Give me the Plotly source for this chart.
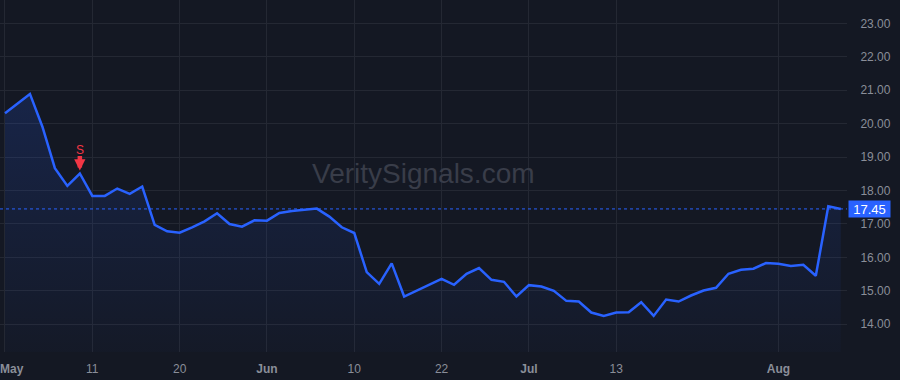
import plotly.graph_objects as go

# ---- data ----
values = [20.31, 20.60, 20.89, 19.91, 18.67, 18.14, 18.51, 17.84, 17.84, 18.06,
          17.90, 18.12, 16.97, 16.78, 16.74, 16.90, 17.08, 17.32, 17.00, 16.92,
          17.11, 17.10, 17.33, 17.39, 17.42, 17.46, 17.22, 16.90, 16.73, 15.56,
          15.21, 15.82, 14.83, 15.00, 15.17, 15.36, 15.18, 15.51, 15.68, 15.33,
          15.27, 14.83, 15.17, 15.13, 15.00, 14.70, 14.68, 14.35, 14.25, 14.35,
          14.36, 14.66, 14.25, 14.74, 14.68, 14.86, 15.01, 15.09, 15.51, 15.63,
          15.66, 15.83, 15.81, 15.74, 15.78, 15.45, 17.53, 17.45]
x_idx = list(range(len(values)))
tick_pos = [0, 7, 14, 21, 28, 35, 42, 49, 62]
tick_labels = ["\u00a0\u00a0\u00a0\u00a0<b>May</b>", "11", "20", "<b>Jun</b>", "10", "22",
               "<b>Jul</b>", "13", "<b>Aug</b>"]
y_ticks = [14, 15, 16, 17, 18, 19, 20, 21, 22, 23]
signal_idx = 6
signal_label = "S"
watermark = "VeritySignals.com"

BG = "#141823"
GRID = "#242833"
BLUE = "#2962ff"
RED = "#f23645"
TXT = "#8a8e99"
FONT = "Liberation Sans"

last = values[-1]

fig = go.Figure()
fig.add_trace(go.Scatter(
    x=x_idx, y=values, mode="lines",
    line=dict(color=BLUE, width=2.5),
    fill="tozeroy",
    fillgradient=dict(type="vertical", start=13.17, stop=21.0,
                      colorscale=[[0, "rgba(41,98,255,0.02)"],
                                  [1, "rgba(41,98,255,0.17)"]]),
    hoverinfo="skip", showlegend=False))

# last price dotted line
fig.add_hline(y=last, line=dict(color=BLUE, width=1, dash="dot"))

# watermark
fig.add_annotation(text=watermark, xref="paper", yref="paper", x=0.5, y=0.508,
                   showarrow=False, font=dict(family=FONT, size=28, color="#393d49"))

# signal marker
fig.add_annotation(x=signal_idx, y=values[signal_idx], text=signal_label, showarrow=False,
                   yshift=23, font=dict(family=FONT, size=12, color=RED))
fig.add_annotation(x=signal_idx, y=values[signal_idx], text="", showarrow=True,
                   ax=0, ay=-19, standoff=3, arrowhead=2, arrowsize=0.5,
                   arrowwidth=4.5, arrowcolor=RED)

# last price label
fig.add_annotation(xref="paper", x=1.0, y=last, text=f"{last:.2f}", showarrow=False,
                   xanchor="left", xshift=1, bgcolor=BLUE, width=41, height=16,
                   borderpad=0, align="center",
                   font=dict(family=FONT, size=13, color="#ffffff"))

fig.update_layout(
    width=900, height=380,
    margin=dict(l=0, r=53, t=0, b=28),
    paper_bgcolor=BG, plot_bgcolor=BG,
    font=dict(family=FONT, color=TXT, size=12),
    xaxis=dict(range=[-0.4, 67.5], tickvals=tick_pos, ticktext=tick_labels,
               showgrid=True, gridcolor=GRID, gridwidth=1, zeroline=False,
               ticks="outside", ticklen=6, tickcolor=BG, showline=False,
               ticklabeloverflow="allow",
               tickfont=dict(family=FONT, size=12, color=TXT), automargin=False,
               fixedrange=True),
    yaxis=dict(range=[13.17, 23.70], side="right", tickvals=y_ticks,
               ticktext=[f"{v:.2f}" for v in y_ticks],
               showgrid=True, gridcolor=GRID, gridwidth=1, zeroline=False,
               ticks="outside", ticklen=10, tickcolor=BG, showline=False,
               tickfont=dict(family=FONT, size=12, color=TXT), automargin=False,
               fixedrange=True),
)

fig.write_html("out.html", config={"displayModeBar": False})
